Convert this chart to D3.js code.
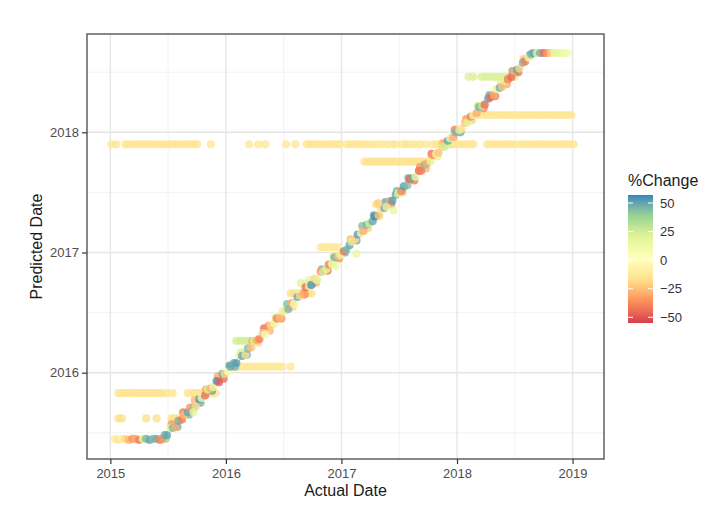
<!DOCTYPE html>
<html>
<head>
<meta charset="utf-8">
<script src="https://cdn.jsdelivr.net/npm/d3@7"></script>
<style>
  body { margin: 0; background: #fff; }
  text { font-family: "Liberation Sans", Arial, sans-serif; }
</style>
</head>
<body>
<svg id="chart" width="707" height="506"></svg>
<script>
// ---- data: actual vs predicted completion dates (decimal years) and % change ----

// predictions that stayed fixed while the actual date moved on
const rowPredicted = [2017.90, 2017.756, 2018.462, 2018.144, 2015.83, 2015.62, 2016.05, 2016.265, 2016.66, 2016.745, 2017.044];
const rowChange    = [-14, -16, 22, -14, -15, -18, -13, 24, -18, 20, -13];
const rowActual = [
  [2015.01, 2015.05, 2015.13, 2015.16, 2015.19, 2015.22, 2015.25, 2015.28, 2015.31, 2015.34, 2015.37, 2015.40,
   2015.43, 2015.46, 2015.49, 2015.52, 2015.55, 2015.58, 2015.61, 2015.64, 2015.67, 2015.70, 2015.73, 2015.75,
   2015.87, 2016.20, 2016.28, 2016.34, 2016.52, 2016.60,
   2016.70, 2016.73, 2016.76, 2016.79, 2016.82, 2016.85, 2016.88, 2016.91, 2016.94, 2016.97, 2016.99,
   2017.05, 2017.08, 2017.11, 2017.14, 2017.17, 2017.20, 2017.23, 2017.27,
   2017.31, 2017.35, 2017.40, 2017.44, 2017.47, 2017.53, 2017.56, 2017.60, 2017.64, 2017.68, 2017.73,
   2017.79, 2017.82, 2017.85, 2017.88, 2017.91, 2017.94, 2017.97, 2018.00, 2018.03, 2018.06, 2018.09, 2018.12, 2018.14,
   2018.26, 2018.29, 2018.32, 2018.35, 2018.38, 2018.41, 2018.44, 2018.47, 2018.51, 2018.55,
   2018.59, 2018.62, 2018.65, 2018.68, 2018.71, 2018.74, 2018.77, 2018.80, 2018.83, 2018.86, 2018.89, 2018.92,
   2018.95, 2018.98, 2019.01],
  [2017.20, 2017.23, 2017.26, 2017.29, 2017.32, 2017.35, 2017.38, 2017.41, 2017.44, 2017.47, 2017.50, 2017.53,
   2017.56, 2017.59, 2017.62, 2017.65, 2017.68, 2017.71, 2017.74],
  [2018.10, 2018.14, 2018.21, 2018.24, 2018.27, 2018.30, 2018.33, 2018.36, 2018.39, 2018.42, 2018.45, 2018.48, 2018.50],
  [2018.18, 2018.21, 2018.24, 2018.27, 2018.30, 2018.33, 2018.36, 2018.39, 2018.42, 2018.45, 2018.48, 2018.51,
   2018.54, 2018.57, 2018.60, 2018.63, 2018.66, 2018.69, 2018.72, 2018.75, 2018.78, 2018.81, 2018.84, 2018.87,
   2018.90, 2018.93, 2018.96, 2018.99],
  [2015.07, 2015.10, 2015.13, 2015.16, 2015.19, 2015.22, 2015.25, 2015.28, 2015.31, 2015.34, 2015.37, 2015.40,
   2015.43, 2015.45, 2015.49, 2015.54, 2015.67, 2015.70, 2015.73, 2015.76, 2015.79, 2015.82, 2015.85, 2015.88, 2015.91],
  [2015.07, 2015.10, 2015.31, 2015.40, 2015.53, 2015.56, 2015.59, 2015.62],
  [2016.04, 2016.07, 2016.10, 2016.13, 2016.16, 2016.19, 2016.22, 2016.25, 2016.28, 2016.31, 2016.34, 2016.37,
   2016.40, 2016.43, 2016.46, 2016.49, 2016.56],
  [2016.09, 2016.12, 2016.15, 2016.18, 2016.21],
  [2016.56, 2016.59, 2016.62, 2016.65, 2016.68, 2016.71, 2016.74],
  [2016.65, 2016.70],
  [2016.82, 2016.85, 2016.88, 2016.91, 2016.94, 2016.97]
];

// predictions that tracked the actual date: [actual, predicted, %change]
const trendPoints = [
  [2015.04, 2015.45, -12], [2015.07, 2015.44, -15], [2015.10, 2015.45, -8], [2015.13, 2015.45, -20],
  [2015.16, 2015.44, -28], [2015.19, 2015.45, -35], [2015.22, 2015.45, -30], [2015.25, 2015.44, -42],
  [2015.28, 2015.45, 18], [2015.31, 2015.45, 46], [2015.34, 2015.44, 50], [2015.37, 2015.45, 44],
  [2015.40, 2015.45, 48], [2015.43, 2015.44, -40], [2015.45, 2015.45, -35],
  [2015.47, 2015.48, 46], [2015.49, 2015.48, 50], [2015.52, 2015.54, 20], [2015.54, 2015.54, 44],
  [2015.57, 2015.55, -30], [2015.59, 2015.60, 48], [2015.62, 2015.61, -40], [2015.64, 2015.65, -25],
  [2015.67, 2015.67, 50], [2015.69, 2015.71, -35], [2015.72, 2015.71, 42], [2015.74, 2015.72, -20],
  [2015.77, 2015.78, 52], [2015.79, 2015.79, 10], [2015.82, 2015.81, -45], [2015.84, 2015.86, 20],
  [2015.87, 2015.87, -30], [2015.89, 2015.88, 15], [2015.92, 2015.93, 55], [2015.94, 2015.92, -48],
  [2015.97, 2015.99, 46], [2015.99, 2015.99, -20], [2016.02, 2016.01, 5], [2016.04, 2016.05, 50],
  [2016.07, 2016.08, 48], [2016.09, 2016.08, 52], [2016.12, 2016.14, 20], [2016.14, 2016.14, 50],
  [2016.17, 2016.15, -15], [2016.19, 2016.20, 44], [2016.22, 2016.21, -25], [2016.24, 2016.26, 22],
  [2016.27, 2016.27, -30], [2016.29, 2016.28, -40], [2016.32, 2016.33, -25], [2016.34, 2016.32, 10],
  [2016.37, 2016.39, -35], [2016.39, 2016.39, -20], [2016.42, 2016.41, 15], [2016.44, 2016.45, -40],
  [2016.47, 2016.46, -25], [2016.49, 2016.51, 20], [2016.52, 2016.52, -15], [2016.54, 2016.53, 46],
  [2016.57, 2016.58, -30], [2016.59, 2016.57, 10], [2016.62, 2016.63, 50], [2016.64, 2016.64, -20],
  [2016.67, 2016.66, -30], [2016.69, 2016.71, -45], [2016.72, 2016.72, 15], [2016.74, 2016.73, 55],
  [2016.77, 2016.78, -20], [2016.79, 2016.77, 20], [2016.82, 2016.84, -35], [2016.84, 2016.84, 25],
  [2016.87, 2016.86, 18], [2016.89, 2016.90, -40], [2016.92, 2016.91, 25], [2016.94, 2016.96, 48],
  [2016.97, 2016.97, -25], [2016.99, 2016.98, 15], [2017.02, 2017.01, -45], [2017.04, 2017.02, 44],
  [2017.07, 2017.06, 50], [2017.09, 2017.09, 20], [2017.12, 2017.11, -20], [2017.14, 2017.15, 52],
  [2017.17, 2017.16, 10], [2017.19, 2017.18, -30], [2017.22, 2017.23, 46], [2017.24, 2017.24, 25],
  [2017.27, 2017.26, 50], [2017.29, 2017.30, 56], [2017.32, 2017.31, -25], [2017.34, 2017.36, -15],
  [2017.37, 2017.37, 48], [2017.39, 2017.38, 20], [2017.42, 2017.43, -30], [2017.44, 2017.43, 52],
  [2017.47, 2017.48, 50], [2017.49, 2017.49, 20], [2017.52, 2017.51, -40], [2017.54, 2017.55, 52],
  [2017.57, 2017.56, 44], [2017.59, 2017.61, -45], [2017.62, 2017.62, 48], [2017.64, 2017.63, 15],
  [2017.67, 2017.68, -45], [2017.69, 2017.68, -40], [2017.72, 2017.73, 44], [2017.74, 2017.74, -30],
  [2017.77, 2017.76, 20], [2017.79, 2017.81, -35], [2017.82, 2017.82, 10], [2017.84, 2017.83, -25],
  [2017.87, 2017.88, -20], [2017.89, 2017.88, 25], [2017.92, 2017.93, 50], [2017.94, 2017.95, 18],
  [2017.97, 2017.96, -30], [2017.99, 2018.00, 46], [2018.02, 2018.02, 20], [2018.04, 2018.03, -15],
  [2018.07, 2018.08, -25], [2018.09, 2018.08, 20], [2018.12, 2018.13, -40], [2018.14, 2018.14, 15],
  [2018.17, 2018.16, -30], [2018.19, 2018.21, 46], [2018.22, 2018.22, 25], [2018.24, 2018.23, -45],
  [2018.27, 2018.28, 50], [2018.29, 2018.29, -45], [2018.32, 2018.31, -30], [2018.34, 2018.36, 18],
  [2018.37, 2018.37, 48], [2018.39, 2018.38, -25], [2018.42, 2018.43, 20], [2018.44, 2018.44, -40],
  [2018.47, 2018.46, -45], [2018.49, 2018.51, -30], [2018.52, 2018.52, 50], [2018.54, 2018.53, -20],
  [2018.57, 2018.58, 46], [2018.59, 2018.59, -40], [2018.62, 2018.62, 10],
  [2018.64, 2018.65, 46], [2018.66, 2018.66, 50], [2018.69, 2018.66, 20], [2018.72, 2018.66, 48],
  [2018.75, 2018.66, -45], [2018.78, 2018.66, -35], [2018.81, 2018.66, -22], [2018.84, 2018.66, 18],
  [2018.87, 2018.66, 20], [2018.90, 2018.66, 15], [2018.93, 2018.66, 12], [2018.96, 2018.66, 10],
  [2017.30, 2017.40, -18], [2017.32, 2017.41, -22], [2017.45, 2017.35, 16], [2015.72, 2015.67, 18],
  [2016.92, 2016.90, 18], [2016.95, 2016.89, 15], [2017.13, 2016.99, 16]
];

// second batch of tracking predictions, slightly more scattered
const trendPointsLate = [
  [2015.48, 2015.45, 38], [2015.53, 2015.57, -35], [2015.58, 2015.55, 50], [2015.63, 2015.67, -42],
  [2015.68, 2015.65, 44], [2015.73, 2015.77, -28], [2015.78, 2015.75, 48], [2015.83, 2015.86, -40],
  [2015.88, 2015.85, 50], [2015.93, 2015.97, -30], [2015.98, 2015.95, -45], [2016.03, 2016.06, 48],
  [2016.08, 2016.05, 46], [2016.13, 2016.17, 22], [2016.18, 2016.15, 50], [2016.23, 2016.26, -35],
  [2016.28, 2016.25, -20], [2016.33, 2016.37, -45], [2016.38, 2016.35, -28], [2016.43, 2016.46, 20],
  [2016.48, 2016.45, -38], [2016.53, 2016.57, 44], [2016.58, 2016.55, -22], [2016.63, 2016.66, 18],
  [2016.68, 2016.65, -40], [2016.73, 2016.77, 20], [2016.78, 2016.75, -30], [2016.83, 2016.86, 46],
  [2016.88, 2016.85, -45], [2016.93, 2016.97, 20], [2016.98, 2016.95, -35], [2017.03, 2017.00, 46],
  [2017.08, 2017.11, -28], [2017.13, 2017.10, 50], [2017.18, 2017.22, 44], [2017.23, 2017.20, -20],
  [2017.28, 2017.31, 48], [2017.33, 2017.30, 18], [2017.38, 2017.42, 50], [2017.43, 2017.40, -40],
  [2017.48, 2017.51, 46], [2017.53, 2017.50, 22], [2017.58, 2017.62, 48], [2017.63, 2017.60, -42],
  [2017.68, 2017.71, -35], [2017.73, 2017.70, -28], [2017.78, 2017.82, -45], [2017.83, 2017.80, 20],
  [2017.88, 2017.91, -30], [2017.93, 2017.90, 22], [2017.98, 2018.02, -40], [2018.03, 2018.00, 48],
  [2018.08, 2018.11, -35], [2018.13, 2018.10, -20], [2018.18, 2018.22, 22], [2018.23, 2018.20, -38],
  [2018.28, 2018.31, 46], [2018.33, 2018.30, -42], [2018.38, 2018.42, 20], [2018.43, 2018.40, -30],
  [2018.48, 2018.51, 48], [2018.53, 2018.50, -45], [2018.58, 2018.61, -25], [2018.63, 2018.64, 46]
];

const xTickYears = [2015, 2016, 2017, 2018, 2019];
const yTickYears = [2016, 2017, 2018];
const legendTicks = [50, 25, 0, -25, -50];
const spectral = ["#d53e4f", "#fc8d59", "#fee08b", "#ffffbf", "#e6f598", "#99d594", "#3288bd"];
const changeRange = [-55, 57];

// ---- layout ----
const svg = d3.select("#chart");
const panel = { left: 87, top: 34, right: 604, bottom: 459 };

const x = d3.scaleLinear().domain([2014.798, 2019.272]).range([panel.left, panel.right]);
const y = d3.scaleLinear().domain([2015.282, 2018.818]).range([panel.bottom, panel.top]);

const color = d3.scaleLinear()
  .domain(d3.range(spectral.length).map(i => changeRange[0] + i * (changeRange[1] - changeRange[0]) / (spectral.length - 1)))
  .range(spectral)
  .interpolate(d3.interpolateLab);

// ---- grid ----
const grid = svg.append("g");
const minorX = [2014.5, 2015.5, 2016.5, 2017.5, 2018.5].filter(v => v > x.domain()[0] && v < x.domain()[1]);
const minorY = [2015.5, 2016.5, 2017.5, 2018.5].filter(v => v > y.domain()[0] && v < y.domain()[1]);

grid.selectAll(".mx").data(minorX).join("line")
  .attr("x1", d => x(d)).attr("x2", d => x(d)).attr("y1", panel.top).attr("y2", panel.bottom)
  .attr("stroke", "#f0f0f0").attr("stroke-width", 0.9);
grid.selectAll(".my").data(minorY).join("line")
  .attr("y1", d => y(d)).attr("y2", d => y(d)).attr("x1", panel.left).attr("x2", panel.right)
  .attr("stroke", "#f0f0f0").attr("stroke-width", 0.9);
grid.selectAll(".gx").data(xTickYears).join("line")
  .attr("x1", d => x(d)).attr("x2", d => x(d)).attr("y1", panel.top).attr("y2", panel.bottom)
  .attr("stroke", "#e6e6e6").attr("stroke-width", 1.4);
grid.selectAll(".gy").data(yTickYears).join("line")
  .attr("y1", d => y(d)).attr("y2", d => y(d)).attr("x1", panel.left).attr("x2", panel.right)
  .attr("stroke", "#e6e6e6").attr("stroke-width", 1.4);

// ---- points ----
const rowPoints = [];
rowActual.forEach((list, i) => list.forEach(a => rowPoints.push([a, rowPredicted[i], rowChange[i]])));
const allPoints = rowPoints.concat(trendPointsLate, trendPoints);

svg.append("g").selectAll("circle").data(allPoints).join("circle")
  .attr("cx", d => x(d[0]))
  .attr("cy", d => y(d[1]))
  .attr("r", 4.1)
  .attr("fill", d => color(d[2]))
  .attr("fill-opacity", 0.78);

// ---- panel border ----
svg.append("rect")
  .attr("x", panel.left).attr("y", panel.top)
  .attr("width", panel.right - panel.left).attr("height", panel.bottom - panel.top)
  .attr("fill", "none").attr("stroke", "#555").attr("stroke-width", 1.4);

// ---- axes ----
const xAxis = svg.append("g").attr("transform", `translate(0,${panel.bottom})`)
  .call(d3.axisBottom(x).tickValues(xTickYears).tickFormat(d3.format("d")).tickSize(5).tickPadding(5));
const yAxis = svg.append("g").attr("transform", `translate(${panel.left},0)`)
  .call(d3.axisLeft(y).tickValues(yTickYears).tickFormat(d3.format("d")).tickSize(5).tickPadding(3));
[xAxis, yAxis].forEach(g => {
  g.select(".domain").remove();
  g.selectAll(".tick line").attr("stroke", "#333").attr("stroke-width", 1.2);
  g.selectAll(".tick text").attr("fill", "#4d4d4d").style("font-size", "13px")
    .style("font-family", "'Liberation Sans', Arial, sans-serif");
});

svg.append("text")
  .attr("x", (panel.left + panel.right) / 2).attr("y", 496)
  .attr("text-anchor", "middle").attr("fill", "#1a1a1a").style("font-size", "16px")
  .text("Actual Date");
svg.append("text")
  .attr("transform", `translate(42,${(panel.top + panel.bottom) / 2}) rotate(-90)`)
  .attr("text-anchor", "middle").attr("fill", "#1a1a1a").style("font-size", "16px")
  .text("Predicted Date");

// ---- colour legend ----
const leg = { x: 628, y: 195, w: 25, h: 128 };
const legScale = d3.scaleLinear().domain(changeRange).range([leg.y + leg.h, leg.y]);

const grad = svg.append("defs").append("linearGradient")
  .attr("id", "changeGradient").attr("x1", 0).attr("y1", 1).attr("x2", 0).attr("y2", 0);
d3.range(0, 1.0001, 0.05).forEach(t => {
  grad.append("stop").attr("offset", t)
    .attr("stop-color", color(changeRange[0] + t * (changeRange[1] - changeRange[0])));
});

svg.append("text").attr("x", leg.x).attr("y", 186)
  .attr("fill", "#1a1a1a").style("font-size", "16px").text("%Change");

svg.append("rect").attr("x", leg.x).attr("y", leg.y).attr("width", leg.w).attr("height", leg.h)
  .attr("fill", "url(#changeGradient)");

const legTicks = svg.append("g");
legendTicks.forEach(v => {
  const yy = legScale(v);
  legTicks.append("line").attr("x1", leg.x).attr("x2", leg.x + 5).attr("y1", yy).attr("y2", yy)
    .attr("stroke", "#fff").attr("stroke-width", 1);
  legTicks.append("line").attr("x1", leg.x + leg.w - 5).attr("x2", leg.x + leg.w).attr("y1", yy).attr("y2", yy)
    .attr("stroke", "#fff").attr("stroke-width", 1);
  legTicks.append("text").attr("x", leg.x + leg.w + 7).attr("y", yy).attr("dy", "0.35em")
    .attr("fill", "#333").style("font-size", "13px")
    .text(v < 0 ? "\u2212" + Math.abs(v) : String(v));
});
</script>
</body>
</html>
